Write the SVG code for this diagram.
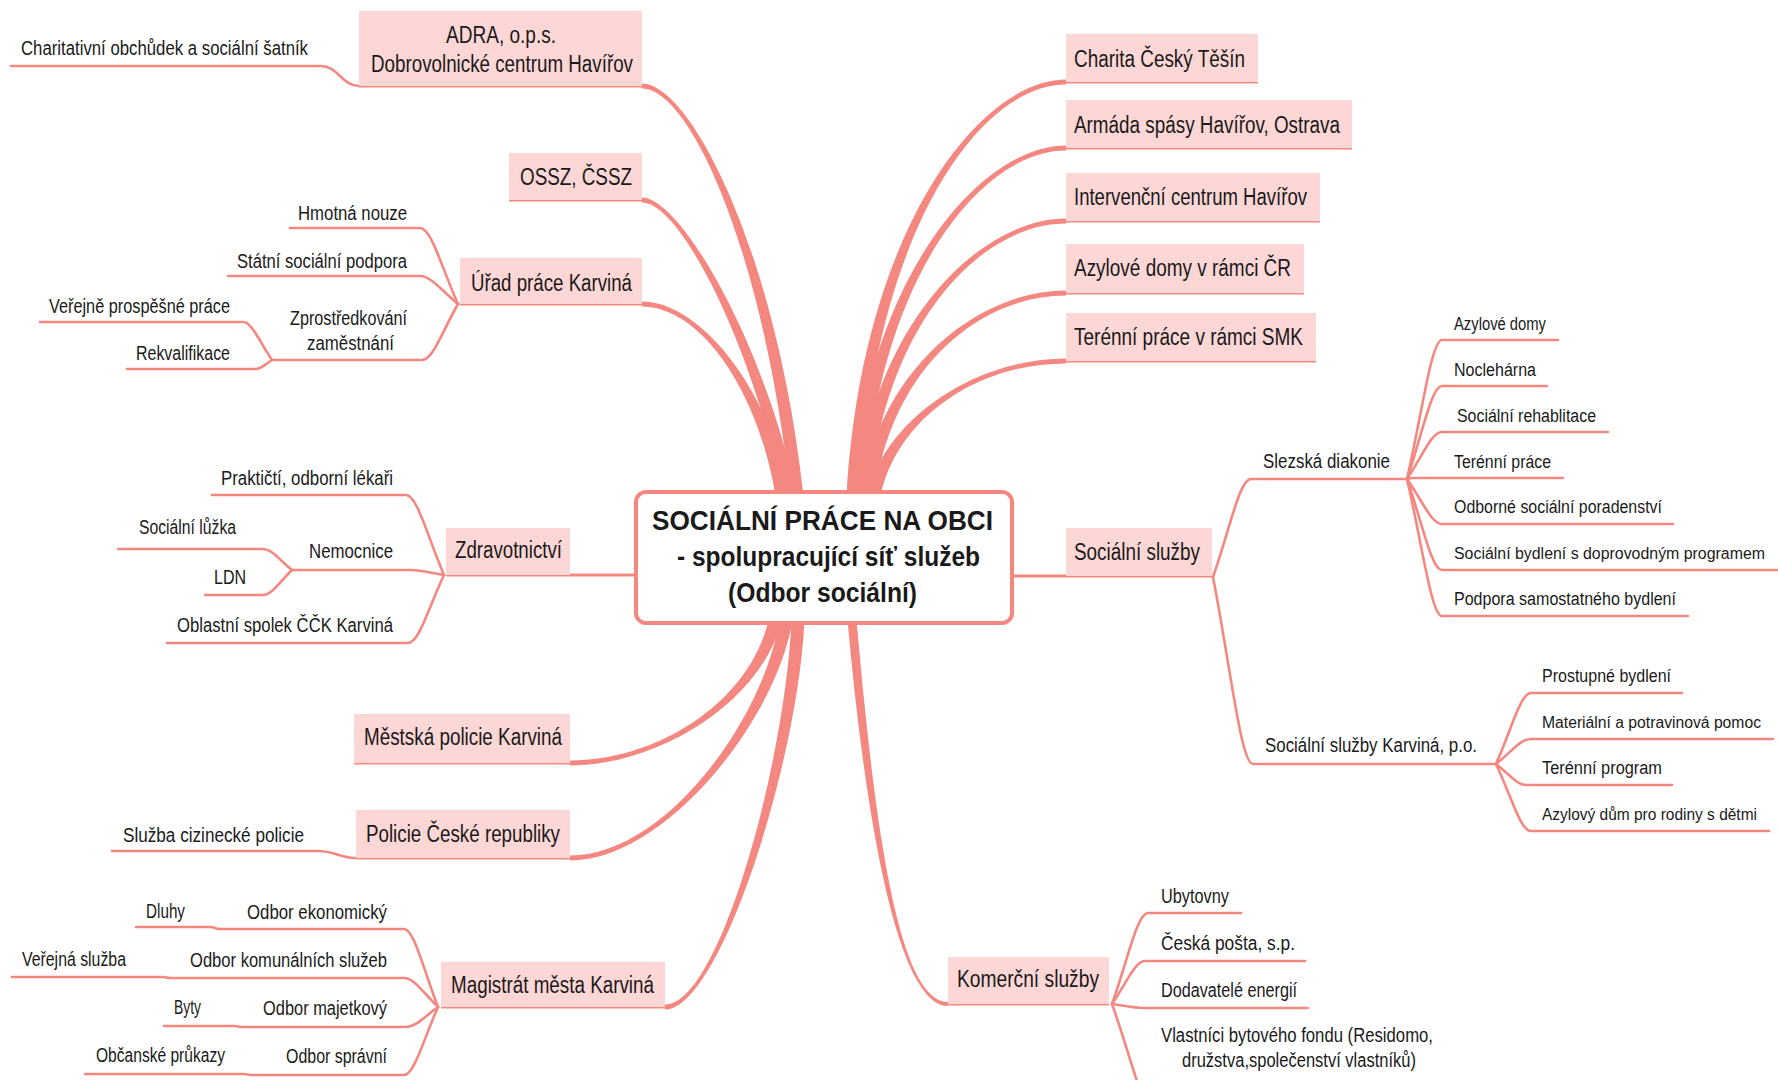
<svg xmlns="http://www.w3.org/2000/svg" width="1778" height="1080" viewBox="0 0 1778 1080">
<style>
.box{fill:#FDD6D6}
.ul{stroke:#F4877F;stroke-width:3;fill:none}
.br{fill:#F4877F}
.ln{stroke:#F4877F;stroke-width:2.6;fill:none;stroke-linecap:round}
text{font-family:"Liberation Sans Narrow","Liberation Sans",Arial,sans-serif;fill:#1a1a1a}
.t1{font-size:23px}
.t2{font-size:19.5px}
.t3{font-size:18px}
.t3s{font-size:16px}
.title{font-family:"Liberation Sans",Arial,sans-serif;font-size:27px;font-weight:bold}
</style>
<rect width="1778" height="1080" fill="#ffffff"/>
<g id="connectors">
<path class="br" d="M 642,83.5 C 690,83.5 776.5,250 803.5,496 L 790.5,496 C 763.5,250 690,88.5 642,88.5 Z"/>
<path class="br" d="M 642,197.5 C 680,197.5 763.5,340 796.5,496 L 783.5,496 C 750.5,340 680,202.5 642,202.5 Z"/>
<path class="br" d="M 642,301.5 C 700,301.5 771.5,390 788.5,496 L 775.5,496 C 758.5,390 700,306.5 642,306.5 Z"/>
<path class="br" d="M 1066,79.5 C 980,79.5 861.5,230 846.5,496 L 859.5,496 C 874.5,230 980,84.5 1066,84.5 Z"/>
<path class="br" d="M 1066,145.5 C 980,145.5 865.5,280 851.5,496 L 864.5,496 C 878.5,280 980,150.5 1066,150.5 Z"/>
<path class="br" d="M 1066,218.5 C 980,218.5 871.5,325 856.5,496 L 869.5,496 C 884.5,325 980,223.5 1066,223.5 Z"/>
<path class="br" d="M 1066,290.5 C 978,290.5 877.5,370 861.5,496 L 874.5,496 C 890.5,370 978,295.5 1066,295.5 Z"/>
<path class="br" d="M 1066,358.5 C 975,358.5 883.5,420 867.5,496 L 880.5,496 C 896.5,420 975,363.5 1066,363.5 Z"/>
<path class="br" d="M 570,765.5 C 660,765.5 763.5,700 781.5,620 L 768.5,620 C 750.5,700 660,760.5 570,760.5 Z"/>
<path class="br" d="M 570,860.5 C 665,860.5 776.5,720 792.5,620 L 779.5,620 C 763.5,720 665,855.5 570,855.5 Z"/>
<path class="br" d="M 665,1009.5 C 720,1009.5 798.5,760 804.5,620 L 791.5,620 C 785.5,760 720,1004.5 665,1004.5 Z"/>
<path class="br" d="M 847.5,620 C 863.5,800 895,1006 948,1006 L 948,1002 C 895,1002 872.5,800 856.5,620 Z"/>
<path class="ul" d="M 570,575 H 636"/>
<path class="ul" d="M 1011,576 H 1066"/>
<path class="ul" d="M 359,86 H 642 M 509,200 H 642 M 460,304 H 642 M 446,575 H 570 M 354,763 H 570 M 356,858 H 570 M 441,1007 H 665"/>
<path class="ul" d="M 1066,82 H 1258 M 1066,148 H 1352 M 1066,221 H 1320 M 1066,293 H 1304 M 1066,361 H 1316 M 1066,576 H 1212 M 948,1004 H 1109"/>
<path class="ln" d="M 11,66 H 321 C 338,66 342,86 359,86"/>
<path class="ln" d="M 290,228 H 420 C 431.4,228 440.9,266 458,304"/>
<path class="ln" d="M 228,276 H 420 C 431,276 441,290 458,304"/>
<path class="ln" d="M 272,360 H 422 C 433,360 442,332 458,304"/>
<path class="ln" d="M 40,322 H 243 C 252,322 259,341 272,360"/>
<path class="ln" d="M 127,369 H 256 C 261,369 265,364.5 272,360"/>
<path class="ln" d="M 212,495 H 406 C 417,495 427,535 444,575"/>
<path class="ln" d="M 292,570 H 411 C 421,570 429,572.5 444,575"/>
<path class="ln" d="M 167,643 H 408 C 419,643 428,609 444,575"/>
<path class="ln" d="M 118,549 H 263 C 272,549 279,559.5 292,570"/>
<path class="ln" d="M 205,595 H 263 C 272,595 279,582.5 292,570"/>
<path class="ln" d="M 112,851 H 318 C 335,851 339,858 356,858"/>
<path class="ln" d="M 219,929 H 404 C 414,929 423,968 438,1007"/>
<path class="ln" d="M 170,978 H 404 C 414,978 423,992.5 438,1007"/>
<path class="ln" d="M 241,1027 H 406 C 416,1027 424,1017 438,1007"/>
<path class="ln" d="M 250,1075 H 404 C 414,1075 423,1041 438,1007"/>
<path class="ln" d="M 136,927 H 211 C 214,927 216,929 219,929"/>
<path class="ln" d="M 12,977 H 163 C 166,977 167,978 170,978"/>
<path class="ln" d="M 164,1026 H 235 C 238,1026 239,1027 241,1027"/>
<path class="ln" d="M 85,1074 H 244 C 247,1074 248,1075 250,1075"/>
<path class="ln" d="M 1407,479 H 1251 C 1239.6,479 1230.1,528 1213,577"/>
<path class="ln" d="M 1496,764 H 1253 C 1241,764 1231,670.5 1213,577"/>
<path class="ln" d="M 1558,340 H 1442 C 1431.5,340 1422.75,409.5 1407,479"/>
<path class="ln" d="M 1547,386 H 1442 C 1431.5,386 1422.75,432.5 1407,479"/>
<path class="ln" d="M 1608,432 H 1442 C 1431.5,432 1422.75,455.5 1407,479"/>
<path class="ln" d="M 1563,478 H 1412 L 1407,479"/>
<path class="ln" d="M 1673,524 H 1442 C 1431.5,524 1422.75,501.5 1407,479"/>
<path class="ln" d="M 1778,570 H 1442 C 1431.5,570 1422.75,524.5 1407,479"/>
<path class="ln" d="M 1688,616 H 1442 C 1431.5,616 1422.75,547.5 1407,479"/>
<path class="ln" d="M 1682,693 H 1531 C 1520.5,693 1511.75,728.5 1496,764"/>
<path class="ln" d="M 1773,739 H 1531 C 1520.5,739 1511.75,751.5 1496,764"/>
<path class="ln" d="M 1672,785 H 1526 C 1517,785 1509.5,774.5 1496,764"/>
<path class="ln" d="M 1769,831 H 1531 C 1520.5,831 1511.75,797.5 1496,764"/>
<path class="ln" d="M 1241,913 H 1148 C 1137.2,913 1128.2,958.5 1112,1004"/>
<path class="ln" d="M 1305,961 H 1145 C 1135.1,961 1126.85,982.5 1112,1004"/>
<path class="ln" d="M 1308,1008 H 1143 C 1133.7,1008 1126,1006 1112,1004"/>
<path class="ln" d="M 1440,1105 H 1150 C 1141,1105 1130,1054 1112,1004"/>
</g>

<g id="center">
<rect x="636" y="492" width="376" height="131" rx="10" fill="#ffffff" stroke="#F4877F" stroke-width="4"/>
<text class="title" x="652" y="530" textLength="341" lengthAdjust="spacingAndGlyphs">SOCIÁLNÍ PRÁCE NA OBCI</text>
<text class="title" x="677" y="566" textLength="303" lengthAdjust="spacingAndGlyphs">- spolupracující síť služeb</text>
<text class="title" x="728" y="602" textLength="189" lengthAdjust="spacingAndGlyphs">(Odbor sociální)</text>
</g>

<g id="n-adra"><rect class="box" x="359" y="11" width="283" height="75"/>
<text class="t1" x="446" y="43" textLength="110" lengthAdjust="spacingAndGlyphs">ADRA, o.p.s.</text>
<text class="t1" x="371" y="72" textLength="262" lengthAdjust="spacingAndGlyphs">Dobrovolnické centrum Havířov</text></g>
<g id="n-charitativni"><text class="t2" x="21" y="55" textLength="287" lengthAdjust="spacingAndGlyphs">Charitativní obchůdek a sociální šatník</text></g>
<g id="n-ossz"><rect class="box" x="509" y="153" width="133" height="47"/>
<text class="t1" x="520" y="185" textLength="112" lengthAdjust="spacingAndGlyphs">OSSZ, ČSSZ</text></g>
<g id="n-urad"><rect class="box" x="460" y="258" width="182" height="46"/>
<text class="t1" x="471" y="291" textLength="161" lengthAdjust="spacingAndGlyphs">Úřad práce Karviná</text></g>
<g id="n-hmotna"><text class="t2" x="298" y="220" textLength="109" lengthAdjust="spacingAndGlyphs">Hmotná nouze</text></g>
<g id="n-statni"><text class="t2" x="237" y="268" textLength="170" lengthAdjust="spacingAndGlyphs">Státní sociální podpora</text></g>
<g id="n-zprostredkovani"><text class="t2" x="290" y="325" textLength="117" lengthAdjust="spacingAndGlyphs">Zprostředkování</text>
<text class="t2" x="307" y="350" textLength="87" lengthAdjust="spacingAndGlyphs">zaměstnání</text></g>
<g id="n-verejne"><text class="t2" x="49" y="313" textLength="181" lengthAdjust="spacingAndGlyphs">Veřejně prospěšné práce</text></g>
<g id="n-rekval"><text class="t2" x="136" y="360" textLength="94" lengthAdjust="spacingAndGlyphs">Rekvalifikace</text></g>

<g id="n-zdrav"><rect class="box" x="446" y="528" width="124" height="47"/>
<text class="t1" x="455" y="558" textLength="107" lengthAdjust="spacingAndGlyphs">Zdravotnictví</text></g>
<g id="n-prakticti"><text class="t2" x="221" y="485" textLength="172" lengthAdjust="spacingAndGlyphs">Praktičtí, odborní lékaři</text></g>
<g id="n-nemocnice"><text class="t2" x="309" y="558" textLength="84" lengthAdjust="spacingAndGlyphs">Nemocnice</text></g>
<g id="n-luzka"><text class="t2" x="139" y="534" textLength="97" lengthAdjust="spacingAndGlyphs">Sociální lůžka</text></g>
<g id="n-ldn"><text class="t2" x="214" y="584" textLength="32" lengthAdjust="spacingAndGlyphs">LDN</text></g>
<g id="n-cck"><text class="t2" x="177" y="632" textLength="216" lengthAdjust="spacingAndGlyphs">Oblastní spolek ČČK Karviná</text></g>

<g id="n-mestska"><rect class="box" x="354" y="714" width="216" height="49"/>
<text class="t1" x="364" y="745" textLength="198" lengthAdjust="spacingAndGlyphs">Městská policie Karviná</text></g>
<g id="n-policie"><rect class="box" x="356" y="810" width="214" height="48"/>
<text class="t1" x="366" y="842" textLength="194" lengthAdjust="spacingAndGlyphs">Policie České republiky</text></g>
<g id="n-cizinecka"><text class="t2" x="123" y="842" textLength="181" lengthAdjust="spacingAndGlyphs">Služba cizinecké policie</text></g>

<g id="n-magistrat"><rect class="box" x="441" y="962" width="224" height="45"/>
<text class="t1" x="451" y="993" textLength="203" lengthAdjust="spacingAndGlyphs">Magistrát města Karviná</text></g>
<g id="n-ekonomicky"><text class="t2" x="247" y="919" textLength="140" lengthAdjust="spacingAndGlyphs">Odbor ekonomický</text></g>
<g id="n-dluhy"><text class="t2" x="146" y="918" textLength="39" lengthAdjust="spacingAndGlyphs">Dluhy</text></g>
<g id="n-komunalni"><text class="t2" x="190" y="967" textLength="197" lengthAdjust="spacingAndGlyphs">Odbor komunálních služeb</text></g>
<g id="n-verejna"><text class="t2" x="22" y="966" textLength="104" lengthAdjust="spacingAndGlyphs">Veřejná služba</text></g>
<g id="n-majetkovy"><text class="t2" x="263" y="1015" textLength="124" lengthAdjust="spacingAndGlyphs">Odbor majetkový</text></g>
<g id="n-byty"><text class="t2" x="174" y="1014" textLength="27" lengthAdjust="spacingAndGlyphs">Byty</text></g>
<g id="n-spravni"><text class="t2" x="286" y="1063" textLength="101" lengthAdjust="spacingAndGlyphs">Odbor správní</text></g>
<g id="n-prukazy"><text class="t2" x="96" y="1062" textLength="129" lengthAdjust="spacingAndGlyphs">Občanské průkazy</text></g>

<g id="n-charita"><rect class="box" x="1066" y="34" width="192" height="48"/>
<text class="t1" x="1074" y="67" textLength="171" lengthAdjust="spacingAndGlyphs">Charita Český Těšín</text></g>
<g id="n-armada"><rect class="box" x="1066" y="100" width="286" height="48"/>
<text class="t1" x="1074" y="133" textLength="266" lengthAdjust="spacingAndGlyphs">Armáda spásy Havířov, Ostrava</text></g>
<g id="n-intervencni"><rect class="box" x="1066" y="173" width="254" height="48"/>
<text class="t1" x="1074" y="205" textLength="233" lengthAdjust="spacingAndGlyphs">Intervenční centrum Havířov</text></g>
<g id="n-azylove"><rect class="box" x="1066" y="244" width="238" height="49"/>
<text class="t1" x="1074" y="276" textLength="217" lengthAdjust="spacingAndGlyphs">Azylové domy v rámci ČR</text></g>
<g id="n-terenni"><rect class="box" x="1066" y="313" width="250" height="48"/>
<text class="t1" x="1074" y="345" textLength="229" lengthAdjust="spacingAndGlyphs">Terénní práce v rámci SMK</text></g>

<g id="n-socsluzby"><rect class="box" x="1066" y="528" width="146" height="48"/>
<text class="t1" x="1074" y="560" textLength="126" lengthAdjust="spacingAndGlyphs">Sociální služby</text></g>
<g id="n-slezska"><text class="t2" x="1263" y="468" textLength="127" lengthAdjust="spacingAndGlyphs">Slezská diakonie</text></g>
<g id="n-s-azyl"><text class="t3" x="1454" y="330" textLength="92" lengthAdjust="spacingAndGlyphs">Azylové domy</text></g>
<g id="n-s-nocl"><text class="t3" x="1454" y="376" textLength="82" lengthAdjust="spacingAndGlyphs">Noclehárna</text></g>
<g id="n-s-rehab"><text class="t3" x="1457" y="422" textLength="139" lengthAdjust="spacingAndGlyphs">Sociální rehablitace</text></g>
<g id="n-s-teren"><text class="t3" x="1454" y="468" textLength="97" lengthAdjust="spacingAndGlyphs">Terénní práce</text></g>
<g id="n-s-porad"><text class="t3" x="1454" y="513" textLength="208" lengthAdjust="spacingAndGlyphs">Odborné sociální poradenství</text></g>
<g id="n-s-bydleni"><text class="t3s" x="1454" y="559" textLength="311" lengthAdjust="spacingAndGlyphs">Sociální bydlení s doprovodným programem</text></g>
<g id="n-s-podpora"><text class="t3" x="1454" y="605" textLength="222" lengthAdjust="spacingAndGlyphs">Podpora samostatného bydlení</text></g>
<g id="n-karvina"><text class="t2" x="1265" y="752" textLength="212" lengthAdjust="spacingAndGlyphs">Sociální služby Karviná, p.o.</text></g>
<g id="n-k-prostupne"><text class="t3" x="1542" y="682" textLength="129" lengthAdjust="spacingAndGlyphs">Prostupné bydlení</text></g>
<g id="n-k-material"><text class="t3s" x="1542" y="728" textLength="219" lengthAdjust="spacingAndGlyphs">Materiální a potravinová pomoc</text></g>
<g id="n-k-teren"><text class="t3" x="1542" y="774" textLength="120" lengthAdjust="spacingAndGlyphs">Terénní program</text></g>
<g id="n-k-azyl"><text class="t3s" x="1542" y="820" textLength="215" lengthAdjust="spacingAndGlyphs">Azylový dům pro rodiny s dětmi</text></g>

<g id="n-komercni"><rect class="box" x="948" y="957" width="161" height="47"/>
<text class="t1" x="957" y="987" textLength="142" lengthAdjust="spacingAndGlyphs">Komerční služby</text></g>
<g id="n-ubytovny"><text class="t2" x="1161" y="903" textLength="68" lengthAdjust="spacingAndGlyphs">Ubytovny</text></g>
<g id="n-posta"><text class="t2" x="1161" y="950" textLength="134" lengthAdjust="spacingAndGlyphs">Česká pošta, s.p.</text></g>
<g id="n-energie"><text class="t2" x="1161" y="997" textLength="136" lengthAdjust="spacingAndGlyphs">Dodavatelé energií</text></g>
<g id="n-vlastnici"><text class="t2" x="1161" y="1042" textLength="272" lengthAdjust="spacingAndGlyphs">Vlastníci bytového fondu (Residomo,</text>
<text class="t2" x="1182" y="1067" textLength="234" lengthAdjust="spacingAndGlyphs">družstva,společenství vlastníků)</text></g>
</svg>
